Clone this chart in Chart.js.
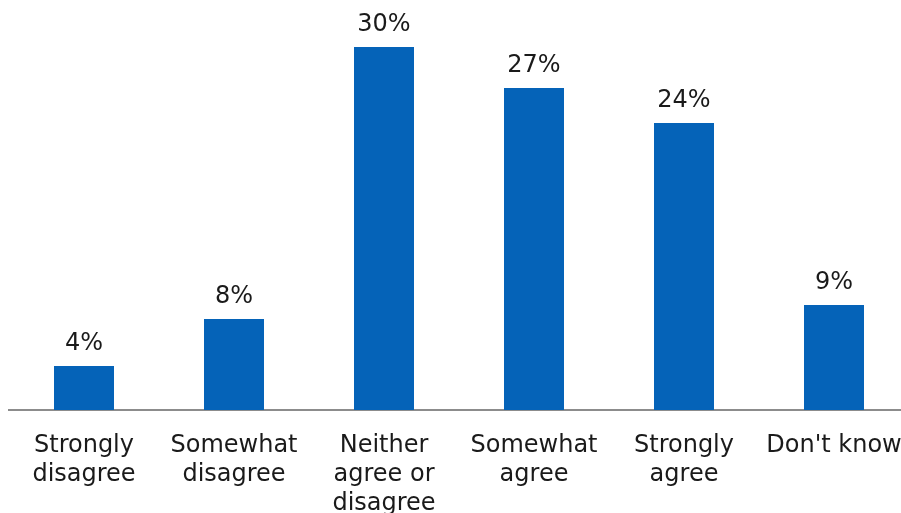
<!DOCTYPE html>
<html>
<head>
<meta charset="utf-8">
<script src="https://cdn.jsdelivr.net/npm/chart.js@4/dist/chart.umd.min.js"></script>
<style>
  html, body { margin: 0; padding: 0; background: #ffffff; overflow: hidden; width: 901px; height: 513px; }
  #c { position: absolute; left: 0; top: 0; }
</style>
</head>
<body>
<canvas id="c" width="918" height="513"></canvas>
<script>
const categories = [
  ["Strongly", "disagree"],
  ["Somewhat", "disagree"],
  ["Neither", "agree or", "disagree"],
  ["Somewhat", "agree"],
  ["Strongly", "agree"],
  ["Don't know"]
];
const values = [3.65, 7.55, 30.1, 26.7, 23.8, 8.7];
const valueLabels = ["4%", "8%", "30%", "27%", "24%", "9%"];
const yMin = 0;
const yMax = 34;

const FONT = "'DejaVu Sans', Verdana, sans-serif";

const barLabels = {
  id: 'barLabels',
  afterDatasetsDraw(chart) {
    const ctx = chart.ctx;
    const meta = chart.getDatasetMeta(0);
    ctx.save();
    ctx.font = "24px " + FONT;
    ctx.fillStyle = "#1a1a1a";
    ctx.textAlign = "center";
    ctx.textBaseline = "alphabetic";
    meta.data.forEach((bar, i) => {
      ctx.fillText(valueLabels[i], bar.x, bar.y - 16);
    });
    ctx.restore();
  }
};

new Chart(document.getElementById('c'), {
  type: 'bar',
  data: {
    labels: categories,
    datasets: [{
      data: values,
      backgroundColor: '#0563B8',
      borderWidth: 0,
      barPercentage: 0.4,
      categoryPercentage: 1.0
    }]
  },
  options: {
    responsive: false,
    maintainAspectRatio: false,
    animation: false,
    devicePixelRatio: 1,
    layout: { padding: { left: 9, right: 9, top: 0, bottom: 0 } },
    plugins: { legend: { display: false }, tooltip: { enabled: false } },
    scales: {
      x: {
        grid: { display: false, drawTicks: false },
        border: { display: true, color: '#8c8c8c', width: 2 },
        ticks: {
          color: '#1a1a1a',
          font: { family: FONT, size: 24, lineHeight: 1.22 },
          padding: 21,
          maxRotation: 0,
          autoSkip: false
        },
        afterFit(scale) {
          scale.height = 103;
          scale.paddingLeft = 0;
          scale.paddingRight = 0;
        }
      },
      y: {
        display: false,
        min: yMin,
        max: yMax
      }
    }
  },
  plugins: [barLabels]
});
</script>
</body>
</html>
